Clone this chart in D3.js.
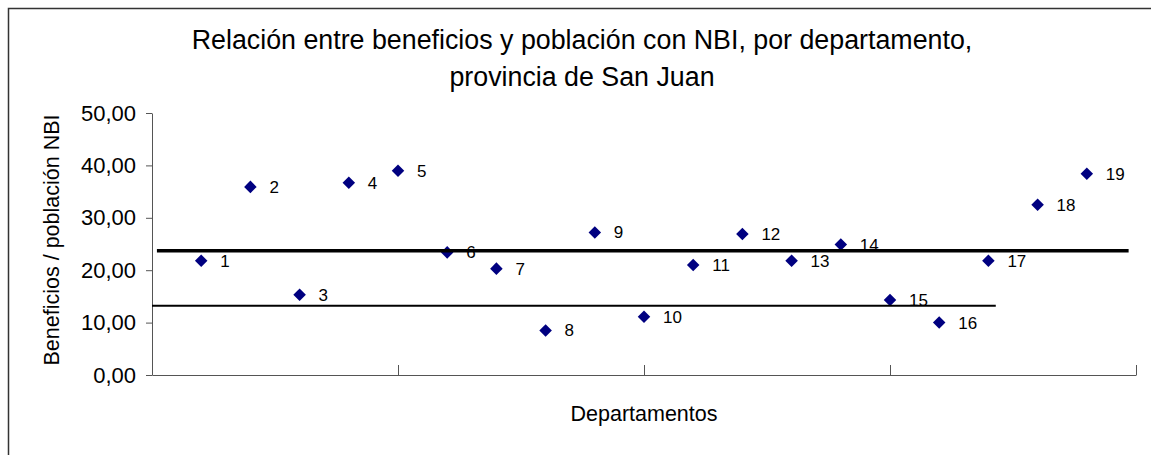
<!DOCTYPE html>
<html>
<head>
<meta charset="utf-8">
<script src="https://cdn.jsdelivr.net/npm/d3@7"></script>
<style>
  body { margin: 0; background: #fff; }
  text { font-family: "Liberation Sans", Arial, sans-serif; fill: #000; }
</style>
</head>
<body>
<div id="chart"></div>
<script>
// departments (1..19) and benefit / NBI population ratio
const departamentos = [1, 2, 3, 4, 5, 6, 7, 8, 9, 10, 11, 12, 13, 14, 15, 16, 17, 18, 19];
const beneficios = [21.8, 35.9, 15.3, 36.7, 39.0, 23.4, 20.3, 8.5, 27.2, 11.1,
                    21.0, 26.9, 21.8, 24.9, 14.3, 10.0, 21.8, 32.5, 38.4];
// horizontal reference lines: [value, x start, x end]
const refLineMedia = [23.7, 0.1, 19.85];
const refLineBaja = [13.2, 0, 17.15];
const yTicks = [0, 10, 20, 30, 40, 50];
const xTicks = [0, 5, 10, 15, 20];
const titleLines = ['Relación entre beneficios y población con NBI, por departamento,', 'provincia de San Juan'];

const width = 1151, height = 455;

const svg = d3.select('#chart')
    .append('svg')
    .attr('width', width)
    .attr('height', height);

// outer chart border (runs past the right and bottom edges)
svg.append('rect')
    .attr('x', 8.5)
    .attr('y', 8.5)
    .attr('width', 1300)
    .attr('height', 600)
    .attr('fill', 'none')
    .attr('stroke', '#333')
    .attr('stroke-width', 1.5);

const plot = {left: 152, right: 1136, top: 113, bottom: 375};

const x = d3.scaleLinear()
    .domain([0, 20])
    .range([plot.left, plot.right]);

const y = d3.scaleLinear()
    .domain([0, 50])
    .range([plot.bottom, plot.top]);

// title
svg.append('text')
    .attr('text-anchor', 'middle')
    .style('font-size', '26.8px')
    .selectAll('tspan')
    .data(titleLines)
    .enter()
    .append('tspan')
    .attr('x', 582)
    .attr('y', (d, i) => 49 + i * 37)
    .text(d => d);

// axes
const yAxis = d3.axisLeft(y)
    .tickValues(yTicks)
    .tickSize(6)
    .tickSizeOuter(0)
    .tickPadding(10)
    .tickFormat(d => d3.format('.2f')(d).replace('.', ','));

const xAxis = d3.axisBottom(x)
    .tickValues(xTicks)
    .tickSize(-10)
    .tickSizeOuter(0)
    .tickFormat('');

const yAxisGroup = svg.append('g')
    .attr('transform', `translate(${plot.left}, 0)`)
    .call(yAxis);

const xAxisGroup = svg.append('g')
    .attr('transform', `translate(0, ${plot.bottom})`)
    .call(xAxis);

[yAxisGroup, xAxisGroup].forEach(g => {
    g.select('.domain').attr('stroke', '#555');
    g.selectAll('.tick line').attr('stroke', '#555');
});

yAxisGroup.selectAll('text')
    .attr('fill', '#000')
    .style('font-size', '22px')
    .style('font-family', '"Liberation Sans", Arial, sans-serif');

// axis titles
svg.append('text')
    .attr('transform', `translate(59, ${(plot.top + 367) / 2}) rotate(-90)`)
    .attr('text-anchor', 'middle')
    .style('font-size', '21.5px')
    .text('Beneficios / población NBI');

svg.append('text')
    .attr('x', (plot.left + plot.right) / 2)
    .attr('y', 421)
    .attr('text-anchor', 'middle')
    .style('font-size', '21.5px')
    .text('Departamentos');

// points
svg.append('g')
    .selectAll('path')
    .data(beneficios)
    .enter()
    .append('path')
    .attr('d', d3.symbol().type(d3.symbolDiamond2).size(100))
    .attr('transform', (d, i) => `translate(${x(departamentos[i])}, ${y(d)})`)
    .attr('fill', '#000080');

// point labels
svg.append('g')
    .selectAll('text')
    .data(beneficios)
    .enter()
    .append('text')
    .attr('x', (d, i) => x(departamentos[i]) + 19)
    .attr('y', d => y(d) + 6)
    .style('font-size', '17px')
    .text((d, i) => departamentos[i]);

// reference lines drawn over the markers
svg.append('line')
    .attr('x1', x(refLineMedia[1]))
    .attr('x2', x(refLineMedia[2]))
    .attr('y1', y(refLineMedia[0]))
    .attr('y2', y(refLineMedia[0]))
    .attr('stroke', '#000')
    .attr('stroke-width', 3.5);

svg.append('line')
    .attr('x1', x(refLineBaja[1]))
    .attr('x2', x(refLineBaja[2]))
    .attr('y1', y(refLineBaja[0]))
    .attr('y2', y(refLineBaja[0]))
    .attr('stroke', '#000')
    .attr('stroke-width', 2);
</script>
</body>
</html>
